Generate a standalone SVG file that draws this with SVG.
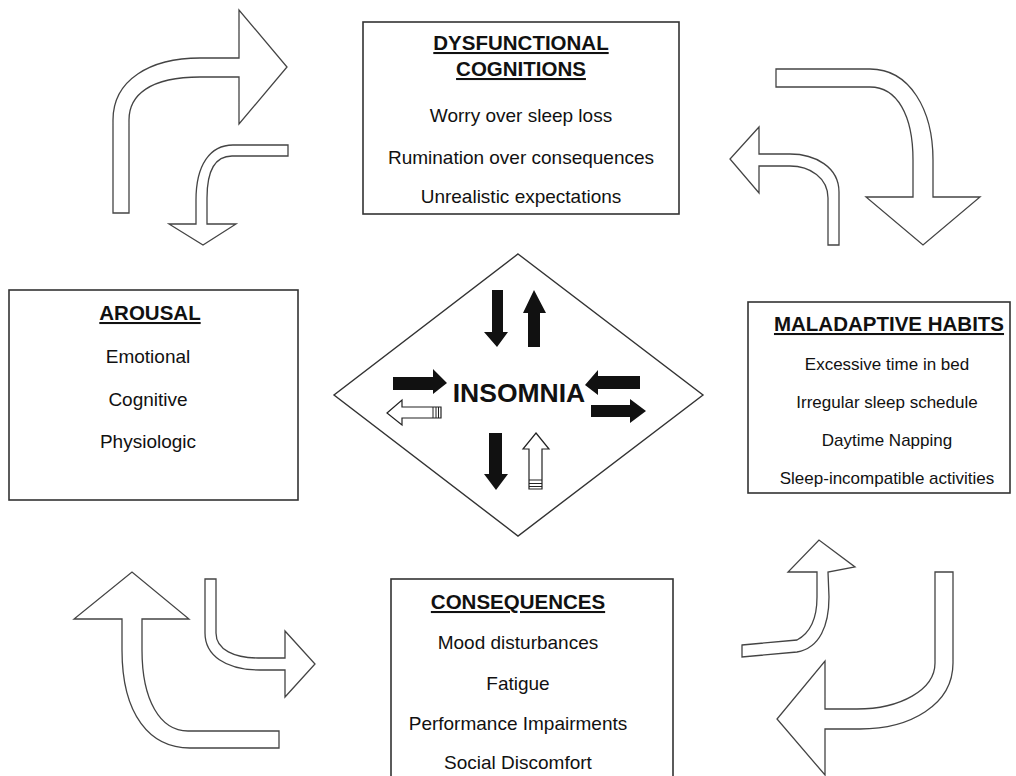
<svg xmlns="http://www.w3.org/2000/svg" width="1016" height="776" viewBox="0 0 1016 776">
<style>
.box{fill:#fff;stroke:#333;stroke-width:1.6}
.hd{font-family:"Liberation Sans",Arial,sans-serif;font-weight:bold;font-size:20.5px;fill:#111;text-anchor:middle;text-decoration:underline}
.tx{font-family:"Liberation Sans",Arial,sans-serif;font-size:19px;fill:#111;text-anchor:middle}
.sm{font-size:17px}
.ca{fill:#fff;stroke:#444;stroke-width:1.3;stroke-linejoin:miter}
.blk{fill:#111;stroke:none}
.wa{fill:#fff;stroke:#222;stroke-width:1.2}
.st{stroke:#222;stroke-width:1}
</style>
<rect width="1016" height="776" fill="#fff"/>

<g id="connectors">
  <!-- top-left pair -->
  <path class="ca" d="M113,213 L113,120 C113,80 150,58 200,58 L239,58 L239,10 L287,67 L239,124 L239,77 L200,77 C150,77 129,95 129,120 L129,213 Z"/>
  <path class="ca" d="M288,145 L233,145 C210,145 196,165 196,200 L196,224 L169,224 L203,245 L236,224 L207,224 L207,198 C207,170 215,156 232,156 L288,156 Z"/>
  <!-- top-right pair -->
  <path class="ca" d="M776,69 L870,69 C910,69 933,110 933,160 L933,197 L980,197 L923,245 L866,197 L913,197 L913,160 C913,115 897,87 870,87 L776,87 Z"/>
  <path class="ca" d="M839,245 L839,192 C839,167 815,154 790,154 L759,154 L759,127 L730,159 L759,193 L759,166 L790,166 C810,166 828,178 828,198 L828,245 Z"/>
  <!-- bottom-left pair -->
  <path class="ca" d="M122,619 L122,650 C122,715 150,748 190,748 L279,748 L279,731 L188,731 C160,731 142,700 142,650 L142,619 L189,619 L132,572 L74,619 Z"/>
  <path class="ca" d="M205,579 L205,633 C205,655 225,670 260,670 L285,670 L285,697 L315,664 L285,631 L285,658 L258,658 C235,658 216,650 216,633 L216,579 Z"/>
  <!-- bottom-right pair -->
  <path class="ca" d="M935,572 L953,572 L953,663 C953,705 910,729 860,729 L825,729 L825,775 L777,719 L825,661 L825,709 L857,709 C900,709 935,690 935,663 Z"/>
  <path class="ca" d="M742,645 L797,640 C812,632 817,615 817,597 L817,572 L788,572 L819,540 L855,567 L828,572 L829,597 C829,625 820,648 797,652 L742,657 Z"/>
</g>

<g id="node-dysfunctional">
  <rect class="box" x="363" y="22" width="316" height="192"/>
  <text class="hd" x="521" y="50">DYSFUNCTIONAL</text>
  <text class="hd" x="521" y="76">COGNITIONS</text>
  <text class="tx" x="521" y="122">Worry over sleep loss</text>
  <text class="tx" x="521" y="164">Rumination over consequences</text>
  <text class="tx" x="521" y="203">Unrealistic expectations</text>
</g>

<g id="node-arousal">
  <rect class="box" x="9" y="290" width="289" height="210"/>
  <text class="hd" x="150" y="320">AROUSAL</text>
  <text class="tx" x="148" y="363">Emotional</text>
  <text class="tx" x="148" y="406">Cognitive</text>
  <text class="tx" x="148" y="448">Physiologic</text>
</g>

<g id="node-maladaptive">
  <rect class="box" x="748" y="302" width="262" height="191"/>
  <text class="hd" x="889" y="331">MALADAPTIVE HABITS</text>
  <text class="tx sm" x="887" y="370">Excessive time in bed</text>
  <text class="tx sm" x="887" y="408">Irregular sleep schedule</text>
  <text class="tx sm" x="887" y="446">Daytime Napping</text>
  <text class="tx sm" x="887" y="484">Sleep-incompatible activities</text>
</g>

<g id="node-consequences">
  <rect class="box" x="391" y="579" width="282" height="220"/>
  <text class="hd" x="518" y="609">CONSEQUENCES</text>
  <text class="tx" x="518" y="649">Mood disturbances</text>
  <text class="tx" x="518" y="690">Fatigue</text>
  <text class="tx" x="518" y="730">Performance Impairments</text>
  <text class="tx" x="518" y="769">Social Discomfort</text>
</g>

<g id="node-insomnia">
  <polygon points="518,254 703,395 518,536 334,395" fill="#fff" stroke="#333" stroke-width="1.4"/>
  <text x="519" y="402" font-family="'Liberation Sans',Arial,sans-serif" font-weight="bold" font-size="26.5" fill="#111" text-anchor="middle">INSOMNIA</text>
  <!-- top: down + up -->
  <polygon class="blk" points="492,290 503,290 503,332 508,332 497,347 484,332 492,332"/>
  <polygon class="blk" points="534,290 546,313 540,313 540,347 528,347 528,313 523,313"/>
  <!-- left: right black + left white -->
  <polygon class="blk" points="393,377 433,377 433,369 447,383 433,394 433,390 393,390"/>
  <polygon class="wa" points="387,413 402,400 402,407 441,407 441,418 402,418 402,425"/>
  <line class="st" x1="433" y1="407" x2="433" y2="418"/>
  <line class="st" x1="436" y1="407" x2="436" y2="418"/>
  <line class="st" x1="438.5" y1="407" x2="438.5" y2="418"/>
  <!-- right: left black + right black -->
  <polygon class="blk" points="585,385 598,370 598,376 640,376 640,389 598,389 598,395"/>
  <polygon class="blk" points="591,405 630,405 630,399 646,411 630,423 630,417 591,417"/>
  <!-- bottom: down black + up white -->
  <polygon class="blk" points="489,433 502,433 502,474 508,474 496,490 484,474 489,474"/>
  <polygon class="wa" points="536,433 549,449 542,449 542,489 529,489 529,449 523,449"/>
  <line class="st" x1="529" y1="480" x2="542" y2="480"/>
  <line class="st" x1="529" y1="483.5" x2="542" y2="483.5"/>
  <line class="st" x1="529" y1="486.5" x2="542" y2="486.5"/>
</g>
</svg>
